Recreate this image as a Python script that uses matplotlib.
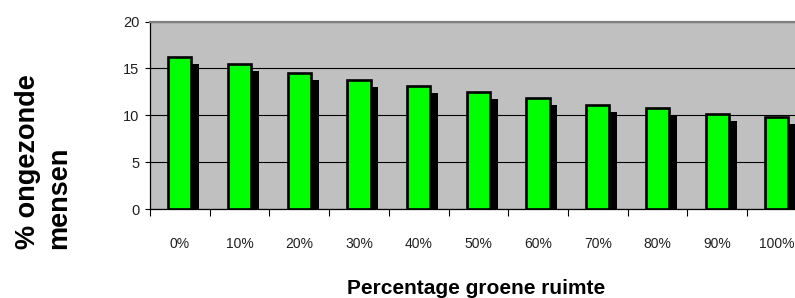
import numpy as np
import matplotlib
matplotlib.use("Agg")
import matplotlib.pyplot as plt
import matplotlib.patheffects as pe

# Chart data
categories = ["0%", "10%", "20%", "30%", "40%", "50%", "60%", "70%", "80%", "90%", "100%"]
values = [16.2, 15.5, 14.5, 13.8, 13.1, 12.5, 11.8, 11.1, 10.8, 10.1, 9.8]
y_ticks = [0, 5, 10, 15, 20]

font = ["Liberation Sans", "DejaVu Sans"]

fig = plt.figure(figsize=(7.95, 2.98), dpi=100)
ax = fig.add_axes([150 / 795, 88.7 / 298, 656.7 / 795, 187.8 / 298])
ax.set_facecolor("#C0C0C0")

x = np.arange(len(categories))
bars = ax.bar(x, values, width=0.39, color="#00FF00", edgecolor="black",
              linewidth=1.9, zorder=3)
# drop shadow like the old Excel chart
for b in bars:
    b.set_path_effects([pe.SimplePatchShadow(offset=(5.6, -5.0), shadow_rgbFace="black", alpha=1.0),
                        pe.Normal()])

ax.set_xlim(-0.5, len(categories) - 0.5)
ax.set_ylim(0, 20)

# gridlines
ax.set_axisbelow(True)
ax.yaxis.grid(True, color="black", linewidth=0.8)

# spines
ax.spines["top"].set_color("#808080")
ax.spines["top"].set_linewidth(1.6)
ax.spines["right"].set_visible(False)
ax.spines["left"].set_color("black")
ax.spines["left"].set_linewidth(0.9)
ax.spines["bottom"].set_color("black")
ax.spines["bottom"].set_linewidth(0.9)

# y axis ticks
ax.set_yticks(y_ticks)
ax.set_yticklabels([str(t) for t in y_ticks], family=font, fontsize=10.5, color="#202020")
ax.tick_params(axis="y", length=3.6, width=0.8, pad=4, direction="out")

# x axis: labels at centres, tick marks at category boundaries
ax.set_xticks(x)
ax.set_xticklabels(categories, family=font, fontsize=10, color="#202020")
ax.set_xticks(np.arange(len(categories) + 1) - 0.5, minor=True)
ax.tick_params(axis="x", which="major", length=0, pad=20)
ax.tick_params(axis="x", which="minor", length=5, width=0.8, direction="out")

# axis titles
fig.text(476 / 795, 1 - 288 / 298, "Percentage groene ruimte", family=font,
         fontsize=15, fontweight="bold", ha="center", va="center")
fig.text(44 / 795, 1 - 249 / 298, "% ongezonde\nmensen", family=font,
         fontsize=19.5, fontweight="bold", rotation=90, ha="center", va="bottom",
         multialignment="left", linespacing=1.25)

fig.savefig("out.png", dpi=100)
